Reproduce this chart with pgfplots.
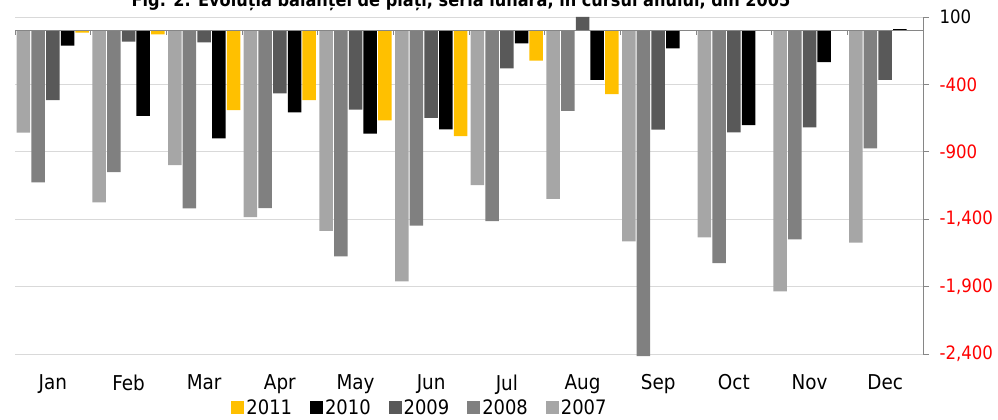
\documentclass[border=0pt]{standalone}
\usepackage{pgfplots}
\pgfplotsset{compat=1.18}
\usepackage{fontspec}
\setmainfont{DejaVu Sans Condensed}
\definecolor{c07}{HTML}{A6A6A6}
\definecolor{c08}{HTML}{808080}
\definecolor{c09}{HTML}{595959}
\definecolor{c10}{HTML}{000000}
\definecolor{c11}{HTML}{FFC000}
\definecolor{axgray}{HTML}{868686}
\definecolor{gridgray}{HTML}{D9D9D9}
\begin{document}
\begin{tikzpicture}
\begin{axis}[
  at={(0bp,0bp)}, anchor=south west,
  scale only axis, width=908bp, height=337bp,
  xmin=-0.5, xmax=11.5, ymin=-2400, ymax=100,
  clip=false,
  ybar=1.2bp, bar width=13.5bp,
  xtick={0,...,11},
  xticklabels={Jan,Feb,Mar,Apr,May,Jun,Jul,Aug,Sep,Oct,Nov,Dec},
  axis x line*=bottom, x axis line style={draw=none}, xtick style={draw=none},
  axis y line*=right, y axis line style={color=axgray, line width=1pt},
  ytick style={color=axgray, line width=1pt}, tick align=outside, major tick length=6bp,
  ytick={-2400,-1900,-1400,-900,-400,100},
  yticklabels={\textcolor{red}{-2,400},\textcolor{red}{-1,900},\textcolor{red}{-1,400},\textcolor{red}{-900},\textcolor{red}{-400},100},
  ymajorgrids, grid style={color=gridgray, line width=1pt},
  yticklabel style={font=\fontsize{18.5}{22}\selectfont, xshift=7bp},
  xticklabel style={font=\fontsize{20.5}{24}\selectfont, yshift=-11bp},
  legend style={at={(0.446,-0.16)}, anchor=center, draw=none, fill=none,
    font=\fontsize{20}{24}\selectfont, /tikz/every even column/.append style={column sep=16bp},
    inner sep=0pt},
  legend columns=5,
  reverse legend,
  legend image code/.code={\fill[#1,draw=none] (0bp,-6.5bp) rectangle (13bp,6.5bp);},
]
\addplot[fill=c07, draw=none] coordinates {(0,-758) (1,-1275) (2,-998) (3,-1384) (4,-1487) (5,-1861) (6,-1148) (7,-1250) (8,-1564) (9,-1534) (10,-1935) (11,-1574)};
\addlegendentry{2007}
\addplot[fill=c08, draw=none] coordinates {(0,-1126) (1,-1050) (2,-1319) (3,-1317) (4,-1675) (5,-1448) (6,-1415) (7,-597) (8,-2415) (9,-1725) (10,-1549) (11,-874)};
\addlegendentry{2008}
\addplot[fill=c09, draw=none] coordinates {(0,-516) (1,-83) (2,-88) (3,-466) (4,-587) (5,-649) (6,-281) (7,100) (8,-736) (9,-755) (10,-718) (11,-367)};
\addlegendentry{2009}
\addplot[fill=c10, draw=none] coordinates {(0,-113) (1,-634) (2,-800) (3,-607) (4,-765) (5,-733) (6,-95) (7,-367) (8,-132) (9,-703) (10,-234) (11,10)};
\addlegendentry{2010}
\addplot[fill=c11, draw=none] coordinates {(0,-15) (1,-28) (2,-590) (3,-516) (4,-666) (5,-783) (6,-224) (7,-473)};
\addlegendentry{2011}
\draw[axgray, line width=1.5pt] (axis cs:-0.5,0) -- (axis cs:11.5,0);
\pgfplotsinvokeforeach{-0.5,0.5,...,11.5}{\draw[axgray, line width=1pt] (axis cs:#1,0) -- ++(0bp,-5bp);}
\end{axis}
\node[anchor=base, font=\bfseries\fontsize{18}{20}\selectfont] at (446bp,347.5bp) {Fig. 2. Evoluția balanței de plăți, seria lunară, în cursul anului, din 2005};
\pgfresetboundingbox
\useasboundingbox (-15bp,-66bp) rectangle (983bp,354bp);
\end{tikzpicture}
\end{document}
